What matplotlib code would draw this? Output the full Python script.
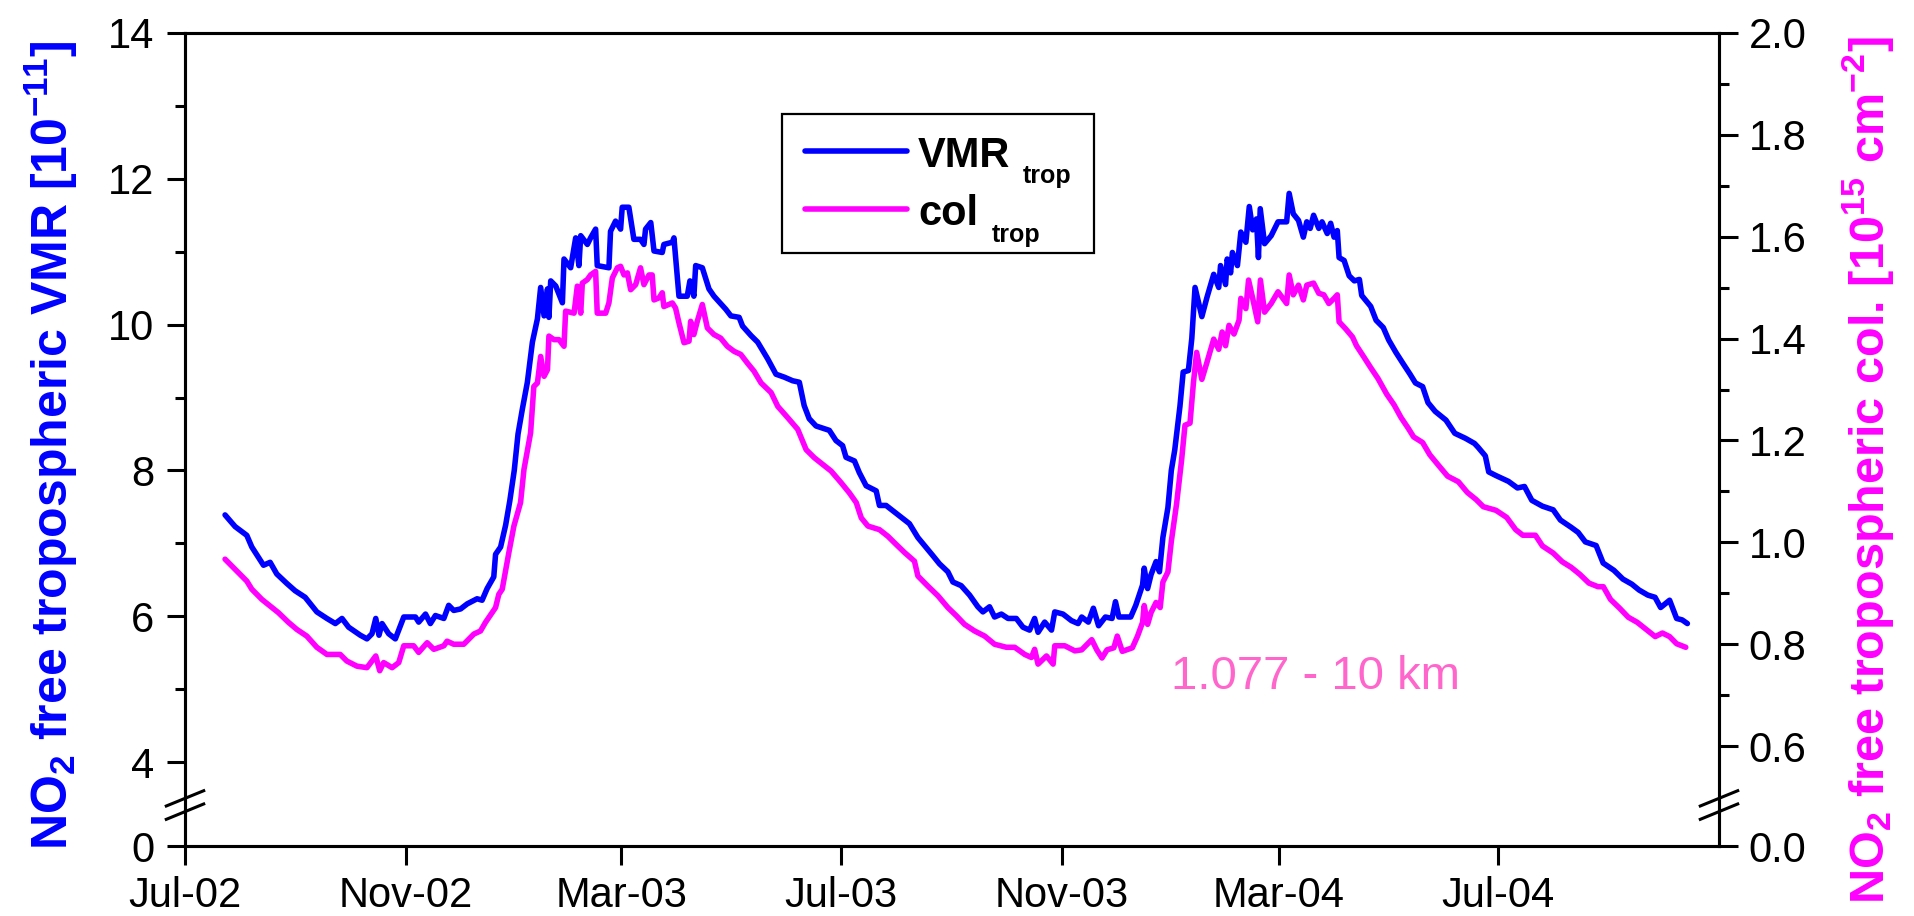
import numpy as np
import matplotlib
matplotlib.use("Agg")
import matplotlib.pyplot as plt
import matplotlib.dates as mdates
from matplotlib.lines import Line2D
from matplotlib.patches import Rectangle

plt.rcParams['font.family'] = ['Liberation Sans', 'DejaVu Sans']
plt.rcParams['mathtext.fontset'] = 'custom'
plt.rcParams['mathtext.rm'] = 'Liberation Sans'
plt.rcParams['mathtext.bf'] = 'Liberation Sans:bold'
plt.rcParams['mathtext.it'] = 'Liberation Sans:italic'

# ---- data: days since 1 July 2002 ----
START = np.datetime64('2002-07-01')
END = np.datetime64('2004-11-01')

vmr_days = [22.3, 27.9, 34.4, 37.2, 43.7, 47.4, 51.1, 56.7, 61.3, 66.9, 73.4, 79.0, 83.7, 87.4,
            91.1, 97.6, 101.3, 104.1, 106.2, 108.0, 109.7, 113.4, 117.1, 121.8, 128.3, 130.1,
            133.9, 136.6, 139.4, 144.1, 146.8, 149.6, 153.4, 157.1, 162.6, 165.4, 168.2, 171.9,
            172.9, 175.7, 178.5, 180.8, 183.3, 185.4, 187.8, 190.6, 193.4, 196.2, 198.0, 199.9,
            201.8, 202.6, 203.6, 206.4, 210.1, 211.0, 214.7, 217.5, 219.3, 220.3, 224.0, 225.8,
            228.6, 229.5, 236.0, 236.9, 239.7, 242.5, 243.4, 247.1, 249.9, 253.6, 255.5, 256.4,
            259.3, 261.1, 265.7, 266.6, 271.3, 272.2, 275.0, 279.6, 281.1, 283.3, 284.3, 288.0,
            291.7, 294.5, 301.1, 303.9, 308.5, 310.4, 315.1, 318.8, 324.4, 329.0, 333.6, 338.3,
            342.0, 344.7, 347.5, 351.3, 358.7, 362.4, 366.1, 368.0, 372.7, 375.4, 379.2, 384.8,
            386.6, 390.3, 395.0, 398.7, 403.3, 408.0, 411.7, 416.4, 420.0, 424.7, 427.5, 432.1,
            436.8, 441.4, 444.2, 447.9, 450.7, 454.5, 458.2, 462.8, 466.5, 470.2, 473.0, 474.9,
            478.6, 482.4, 484.2, 488.8, 493.5, 497.2, 499.2, 502.9, 505.7, 508.6, 512.4, 516.1,
            518.0, 519.9, 526.5, 529.3, 533.1, 534.0, 535.9, 537.8, 540.6, 542.5, 544.4, 547.2,
            549.1, 551.0, 553.9, 555.7, 558.6, 560.5, 562.3, 566.1, 568.9, 572.7, 575.5, 576.5,
            579.3, 580.2, 582.1, 583.1, 585.9, 587.8, 590.6, 592.5, 594.4, 596.5, 597.6, 598.6,
            601.0, 604.7, 608.5, 613.3, 614.7, 617.0, 619.9, 622.6, 624.5, 626.4, 628.3, 631.2,
            633.0, 635.9, 637.8, 639.7, 641.5, 642.5, 645.3, 648.1, 651.0, 653.8, 655.1, 660.1,
            663.1, 667.1, 670.1, 674.1, 678.0, 682.0, 685.0, 689.0, 692.0, 696.0, 702.0, 706.9,
            712.9, 717.9, 719.8, 723.9, 725.8, 729.8, 736.8, 741.8, 745.7, 749.8, 755.7, 761.7,
            765.7, 771.7, 775.6, 779.6, 785.6, 789.5, 795.5, 800.5, 805.5, 809.5, 814.4, 818.4,
            821.5, 826.5, 830.4, 833.5, 836.4]
vmr_vals = [7.39, 7.23, 7.11, 6.95, 6.70, 6.74, 6.58, 6.45, 6.35, 6.26, 6.06, 5.97, 5.90, 5.97,
            5.85, 5.74, 5.69, 5.76, 5.97, 5.74, 5.90, 5.76, 5.69, 5.99, 5.99, 5.92,
            6.03, 5.90, 6.01, 5.97, 6.15, 6.08, 6.10, 6.17, 6.24, 6.22, 6.38, 6.54,
            6.85, 6.95, 7.25, 7.58, 8.00, 8.50, 8.84, 9.21, 9.76, 10.08, 10.51, 10.12,
            10.49, 10.10, 10.60, 10.53, 10.30, 10.90, 10.78, 11.19, 10.81, 11.22, 11.10, 11.19,
            11.31, 10.81, 10.78, 11.28, 11.42, 11.31, 11.61, 11.61, 11.17, 11.17, 11.10, 11.31,
            11.40, 11.01, 10.99, 11.10, 11.13, 11.19, 10.39, 10.39, 10.60, 10.39, 10.81, 10.78,
            10.49, 10.39, 10.21, 10.12, 10.10, 9.98, 9.85, 9.76, 9.53, 9.32, 9.28, 9.23,
            9.21, 8.89, 8.71, 8.61, 8.55, 8.41, 8.34, 8.18, 8.13, 7.97, 7.79, 7.72,
            7.52, 7.52, 7.43, 7.36, 7.27, 7.08, 6.97, 6.83, 6.72, 6.61, 6.47, 6.42,
            6.29, 6.13, 6.06, 6.13, 5.99, 6.03, 5.97, 5.97, 5.85, 5.81, 5.97, 5.78,
            5.92, 5.81, 6.06, 6.03, 5.94, 5.90, 5.99, 5.92, 6.11, 5.87, 5.99, 5.97,
            6.20, 5.99, 5.99, 6.15, 6.43, 6.66, 6.38, 6.57, 6.75, 6.61, 7.08, 7.49,
            8.00, 8.28, 8.88, 9.35, 9.37, 9.81, 10.51, 10.11, 10.37, 10.69, 10.51, 10.81,
            10.55, 10.90, 10.71, 10.99, 10.81, 11.27, 11.13, 11.62, 11.30, 11.45, 10.92, 11.59,
            11.11, 11.22, 11.41, 11.41, 11.80, 11.52, 11.43, 11.20, 11.41, 11.32, 11.50, 11.32,
            11.41, 11.25, 11.39, 11.20, 11.29, 10.92, 10.88, 10.67, 10.60, 10.62, 10.40, 10.25,
            10.06, 9.96, 9.79, 9.62, 9.47, 9.32, 9.20, 9.15, 8.93, 8.81, 8.69, 8.51,
            8.44, 8.37, 8.32, 8.20, 7.98, 7.93, 7.85, 7.76, 7.78, 7.59, 7.51, 7.46,
            7.32, 7.22, 7.15, 7.02, 6.97, 6.73, 6.63, 6.51, 6.44, 6.36, 6.29, 6.26,
            6.12, 6.22, 5.97, 5.95, 5.90]

col_days = [22.3, 27.9, 34.4, 37.2, 42.8, 47.4, 52.0, 57.6, 62.3, 67.8, 73.4, 79.0, 86.4, 90.1,
            95.7, 101.3, 106.2, 108.4, 110.6, 115.3, 119.0, 121.8, 127.3, 130.1, 134.8, 138.5,
            144.1, 145.9, 149.6, 155.2, 160.8, 164.5, 167.3, 172.9, 174.7, 176.6, 180.3, 183.1,
            186.8, 188.7, 192.4, 194.2, 196.2, 198.0, 199.9, 201.8, 202.6, 205.4, 208.2, 211.0,
            211.9, 216.6, 218.4, 220.3, 221.2, 224.0, 225.8, 228.6, 229.5, 234.2, 236.0, 237.9,
            240.7, 242.5, 244.4, 246.3, 248.1, 250.9, 253.6, 255.5, 258.3, 260.1, 261.1, 263.9,
            265.7, 266.6, 271.3, 273.1, 275.0, 277.8, 280.6, 281.5, 283.3, 285.2, 288.0, 290.8,
            294.5, 298.2, 301.9, 305.7, 309.4, 313.1, 316.8, 320.7, 326.3, 330.0, 335.5, 341.1,
            345.8, 350.4, 355.1, 359.7, 365.3, 369.9, 373.7, 376.5, 380.2, 386.6, 391.3, 395.9,
            400.6, 406.1, 408.0, 413.6, 419.2, 424.7, 429.4, 434.0, 439.6, 445.2, 450.7, 457.3,
            461.9, 467.5, 471.2, 473.0, 474.9, 479.6, 483.3, 484.2, 489.8, 495.4, 499.2, 504.8,
            507.6, 510.5, 513.3, 517.1, 519.0, 521.8, 527.4, 530.3, 533.1, 534.0, 535.9, 537.8,
            540.6, 542.9, 544.4, 547.2, 549.1, 552.0, 554.8, 556.7, 559.5, 561.4, 563.2, 566.1,
            568.9, 572.7, 575.5, 577.4, 579.3, 581.2, 584.0, 586.8, 587.8, 590.6, 592.1, 594.4,
            597.2, 598.7, 601.0, 604.7, 608.5, 613.3, 614.7, 617.0, 619.9, 622.6, 624.5, 628.3,
            631.2, 634.0, 636.8, 639.7, 641.5, 642.5, 646.2, 650.0, 652.2, 656.1, 660.1, 664.1,
            669.0, 673.1, 677.0, 681.0, 684.0, 689.0, 693.0, 697.9, 702.9, 708.9, 713.9, 718.8,
            722.8, 729.8, 735.8, 740.8, 744.8, 751.8, 755.7, 761.7, 766.7, 771.7, 776.6, 781.6,
            786.6, 789.6, 793.6, 798.6, 803.5, 808.5, 813.5, 818.5, 822.5, 826.5, 830.4, 835.5]
col_vals = [0.967, 0.947, 0.924, 0.908, 0.888, 0.875, 0.862, 0.843, 0.829, 0.816, 0.794, 0.780, 0.780, 0.767,
            0.757, 0.754, 0.777, 0.748, 0.764, 0.754, 0.764, 0.797, 0.797, 0.784, 0.803, 0.790,
            0.797, 0.806, 0.800, 0.800, 0.820, 0.826, 0.843, 0.872, 0.898, 0.908, 0.980, 1.032,
            1.078, 1.143, 1.215, 1.306, 1.313, 1.365, 1.326, 1.339, 1.405, 1.398, 1.398, 1.385,
            1.454, 1.450, 1.503, 1.450, 1.509, 1.516, 1.525, 1.532, 1.450, 1.450, 1.470, 1.519,
            1.539, 1.542, 1.525, 1.529, 1.496, 1.506, 1.539, 1.506, 1.525, 1.525, 1.476, 1.480,
            1.490, 1.463, 1.470, 1.460, 1.431, 1.392, 1.395, 1.434, 1.408, 1.434, 1.467, 1.421,
            1.408, 1.401, 1.385, 1.375, 1.369, 1.352, 1.336, 1.313, 1.294, 1.267, 1.245, 1.222,
            1.182, 1.166, 1.153, 1.140, 1.117, 1.097, 1.078, 1.048, 1.032, 1.025, 1.012, 0.996,
            0.980, 0.963, 0.934, 0.914, 0.895, 0.872, 0.856, 0.839, 0.826, 0.816, 0.800, 0.794,
            0.794, 0.780, 0.774, 0.790, 0.761, 0.777, 0.761, 0.797, 0.797, 0.787, 0.789, 0.809,
            0.789, 0.773, 0.789, 0.793, 0.816, 0.786, 0.793, 0.816, 0.843, 0.876, 0.839, 0.862,
            0.882, 0.872, 0.922, 0.942, 1.002, 1.075, 1.161, 1.230, 1.234, 1.313, 1.373, 1.320,
            1.353, 1.399, 1.379, 1.413, 1.386, 1.426, 1.409, 1.436, 1.479, 1.459, 1.515, 1.479,
            1.433, 1.515, 1.452, 1.469, 1.492, 1.469, 1.525, 1.486, 1.505, 1.476, 1.505, 1.509,
            1.489, 1.486, 1.469, 1.479, 1.486, 1.433, 1.419, 1.403, 1.386, 1.365, 1.343, 1.322,
            1.291, 1.270, 1.245, 1.224, 1.207, 1.196, 1.172, 1.151, 1.130, 1.119, 1.098, 1.084,
            1.070, 1.063, 1.049, 1.025, 1.014, 1.014, 0.993, 0.979, 0.962, 0.951, 0.937, 0.920,
            0.913, 0.913, 0.888, 0.871, 0.853, 0.843, 0.829, 0.815, 0.822, 0.815, 0.801, 0.794]

x_tick_dates = ['2002-07-01', '2002-11-01', '2003-03-01', '2003-07-01',
                '2003-11-01', '2004-03-01', '2004-07-01']
left_major = [0, 4, 6, 8, 10, 12, 14]
left_minor = [5, 7, 9, 11, 13]
right_major = [0.0, 0.6, 0.8, 1.0, 1.2, 1.4, 1.6, 1.8, 2.0]
right_minor = [0.7, 0.9, 1.1, 1.3, 1.5, 1.7, 1.9]

BLUE = '#0000FF'
MAGENTA = '#FF00FF'
LW = 4.0


def broken_scale(b, c):
    """Linear above b; the interval [0, b] is squeezed into [c, b]."""
    k = (b - c) / b

    def fwd(v):
        v = np.asarray(v, dtype=float)
        return np.where(v >= b, v, c + v * k)

    def inv(u):
        u = np.asarray(u, dtype=float)
        return np.where(u >= b, u, (u - c) / k)

    return fwd, inv


def to_num(days):
    return mdates.date2num(START) + np.asarray(days, dtype=float)


fig = plt.figure(figsize=(19.15, 9.16), dpi=100)
ax = fig.add_axes([185 / 1915, 1 - 846 / 916, 1534 / 1915, 813 / 916])
ax2 = ax.twinx()

ax.set_yscale('function', functions=broken_scale(3.43, 2.849))
ax2.set_yscale('function', functions=broken_scale(0.487, 0.4039))

ax.plot(to_num(vmr_days), vmr_vals, color=BLUE, lw=LW, solid_joinstyle='round',
        solid_capstyle='round')
ax2.plot(to_num(col_days), col_vals, color=MAGENTA, lw=LW, solid_joinstyle='round',
         solid_capstyle='round')

ax.set_xlim(mdates.date2num(START), mdates.date2num(END))
ax.set_ylim(0, 14)
ax2.set_ylim(0, 2.0)

ax.set_xticks([mdates.date2num(np.datetime64(d)) for d in x_tick_dates])
ax.xaxis.set_major_formatter(mdates.DateFormatter('%b-%y'))
ax.set_yticks(left_major)
ax.set_yticks(left_minor, minor=True)
ax.set_yticklabels([str(v) for v in left_major])
ax2.set_yticks(right_major)
ax2.set_yticks(right_minor, minor=True)
ax2.set_yticklabels([f'{v:.1f}' for v in right_major])

for a in (ax, ax2):
    for sp in a.spines.values():
        sp.set_linewidth(2.2)

ax.tick_params(axis='x', which='major', direction='out', length=13.5, width=2.2,
               labelsize=30, pad=8, top=False)
ax.tick_params(axis='x', which='minor', bottom=False, top=False)
ax.tick_params(axis='y', which='major', direction='out', length=13, width=2.2,
               labelsize=30, pad=9, right=False)
ax.tick_params(axis='y', which='minor', direction='out', length=7, width=2.2, right=False)
ax2.tick_params(axis='y', which='major', direction='out', length=13.5, width=2.2,
                labelsize=30, pad=8, left=False)
ax2.tick_params(axis='y', which='minor', direction='out', length=7, width=2.2, left=False)

# axis titles
ax.text(-0.0874, 0.493, r'NO$_{\mathbf{2}}$ free tropospheric VMR [10$^{\mathbf{-11}}$]',
        transform=ax.transAxes, rotation=90, ha='center', va='center',
        color=BLUE, fontsize=36, fontweight='bold')
ax.text(1.0971, 0.462,
        r'NO$_{\mathbf{2}}$ free tropospheric col. [10$^{\mathbf{15}}$ cm$^{\mathbf{-2}}$]',
        transform=ax.transAxes, rotation=90, ha='center', va='center',
        color=MAGENTA, fontsize=35, fontweight='bold')

# altitude range note
ax.text(0.643, 0.193, '1.077 - 10 km', transform=ax.transAxes, color='#FF66CC',
        fontsize=34, va='baseline', ha='left')

# axis-break marks on both vertical axes
for xc in (0.0, 1.0):
    for y0, y1 in ((0.0492, 0.0680), (0.0328, 0.0517)):
        ax.add_line(Line2D([xc - 0.0122, xc + 0.0122], [y0, y1], transform=ax.transAxes,
                           color='black', lw=2.2, clip_on=False, zorder=10))

# legend box
ax2.add_patch(Rectangle((0.389, 0.729), 0.2038, 0.1714, transform=ax.transAxes,
                        facecolor='white', edgecolor='black', lw=1.6, zorder=20))
ax2.add_line(Line2D([0.4042, 0.4705], [0.8552, 0.8552], transform=ax.transAxes,
                    color=BLUE, lw=LW, solid_capstyle='round', zorder=21))
ax2.add_line(Line2D([0.4042, 0.4705], [0.7831, 0.7831], transform=ax.transAxes,
                    color=MAGENTA, lw=LW, solid_capstyle='round', zorder=21))
ax2.text(0.4778, 0.8355, 'VMR', transform=ax.transAxes, fontsize=30, fontweight='bold',
         va='baseline', ha='left', zorder=22)
ax2.text(0.5463, 0.8155, 'trop', transform=ax.transAxes, fontsize=18, fontweight='bold',
         va='baseline', ha='left', zorder=22)
ax2.text(0.4778, 0.7638, 'col', transform=ax.transAxes, fontsize=30, fontweight='bold',
         va='baseline', ha='left', zorder=22)
ax2.text(0.5259, 0.7433, 'trop', transform=ax.transAxes, fontsize=18, fontweight='bold',
         va='baseline', ha='left', zorder=22)

fig.savefig('out.png', dpi=100)
